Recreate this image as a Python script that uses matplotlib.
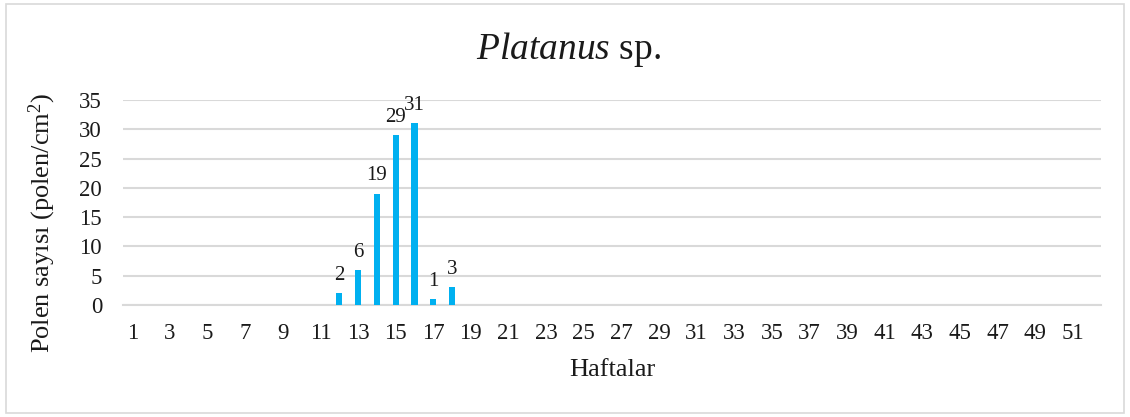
import matplotlib
matplotlib.use("Agg")
import matplotlib.pyplot as plt
from matplotlib.patches import Rectangle

weeks = list(range(1, 53))
counts = [0]*52
peak_weeks = [12, 13, 14, 15, 16, 17, 18]
peak_values = [2, 6, 19, 29, 31, 1, 3]
for w, v in zip(peak_weeks, peak_values):
    counts[w-1] = v
y_ticks = [0, 5, 10, 15, 20, 25, 30, 35]
x_tick_labels = [str(w) for w in range(1, 52, 2)]

plt.rcParams['font.family'] = ['Liberation Serif', 'DejaVu Serif']
plt.rcParams['mathtext.fontset'] = 'custom'
plt.rcParams['mathtext.rm'] = 'Liberation Serif'
plt.rcParams['mathtext.it'] = 'Liberation Serif:italic'

fig = plt.figure(figsize=(11.3, 4.17), dpi=100)
fig.patches.append(Rectangle((0.005, 0.01), 0.99, 0.98, transform=fig.transFigure,
                             fill=False, edgecolor='#d9d9d9', linewidth=1.2))
ax = fig.add_axes([0.1088, 0.2686, 0.8655, 0.4916])

bars = ax.bar(weeks, counts, width=0.33, color='#00B0F0', zorder=3)
for w, v in zip(peak_weeks, peak_values):
    ax.annotate(str(v), (w, v), xytext=(0, 6), textcoords='offset points',
                ha='center', va='bottom', fontsize=15, color='#1a1a1a')

ax.set_xlim(0.5, 52.5)
ax.set_ylim(0, 35)
ax.set_yticks(y_ticks)
ax.set_xticks(list(range(1, 52, 2)))
ax.set_xticklabels(x_tick_labels)
ax.tick_params(axis='both', length=0, labelsize=16.5, colors='#1a1a1a')
ax.tick_params(axis='x', pad=13)
ax.tick_params(axis='y', pad=15)
ax.grid(axis='y', color='#d9d9d9', linewidth=1.5, zorder=0)
for s in ['top', 'right', 'left']:
    ax.spines[s].set_visible(False)
ax.spines['bottom'].set_color('#d9d9d9')
ax.spines['bottom'].set_linewidth(1.5)

ax.set_ylabel('Polen sayısı (polen/cm$^2$)', fontsize=19, color='#1a1a1a')
ax.yaxis.label.set_va('center')
ax.yaxis.set_label_coords(-0.082, 0.40)
ax.set_xlabel('Haftalar', fontsize=19, color='#1a1a1a')
ax.xaxis.label.set_va('center')
ax.xaxis.set_label_coords(0.5006, -0.315)
fig.text(0.5035, 0.8585, r'$\it{Platanus}$ sp.', fontsize=27, ha='center', va='baseline', color='#1a1a1a')

fig.savefig('out.png', dpi=100)
